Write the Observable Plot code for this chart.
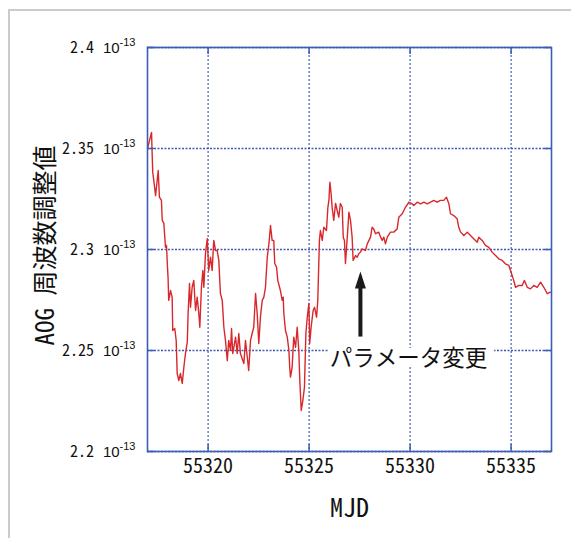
<!DOCTYPE html>
<html><head><meta charset="utf-8">
<script src="https://cdn.jsdelivr.net/npm/d3@7"></script>
<script src="https://cdn.jsdelivr.net/npm/@observablehq/plot@0.6"></script>
<style>
html,body{margin:0;padding:0;background:#fff;overflow:hidden;}
#wrap{position:relative;width:571px;height:538px;overflow:hidden;}
#border{position:absolute;left:8px;top:9px;width:700px;height:700px;border-left:2px solid #cbcbcb;border-top:2px solid #cbcbcb;}
#chart{position:absolute;left:0;top:0;}
</style></head><body>
<div id="wrap"><div id="border"></div><div id="chart"></div></div>
<script>
// MJD of each sample
const mjd = [
55317.00,55317.20,55317.23,55317.26,55317.40,55317.53,55317.59,55317.69,55317.73,55317.81,
55317.89,55317.94,55317.98,55318.02,55318.05,55318.14,55318.22,55318.25,55318.35,55318.42,
55318.47,55318.55,55318.63,55318.72,55318.80,55318.88,55318.97,55319.01,55319.08,55319.13,
55319.21,55319.29,55319.38,55319.46,55319.54,55319.59,55319.67,55319.74,55319.79,55319.87,
55319.96,55320.03,55320.12,55320.20,55320.28,55320.37,55320.45,55320.53,55320.61,55320.70,
55320.78,55320.86,55320.95,55321.02,55321.11,55321.16,55321.22,55321.36,55321.44,55321.52,
55321.60,55321.77,55321.85,55322.01,55322.10,55322.18,55322.26,55322.35,55322.43,55322.51,
55322.59,55322.68,55322.76,55322.84,55322.93,55323.01,55323.09,55323.17,55323.25,55323.30,
55323.39,55323.45,55323.58,55323.67,55323.72,55323.75,55323.83,55323.92,55324.00,55324.04,
55324.08,55324.16,55324.24,55324.33,55324.41,55324.49,55324.54,55324.61,55324.69,55324.77,
55324.84,55324.91,55324.99,55325.03,55325.10,55325.20,55325.27,55325.37,55325.43,55325.51,
55325.56,55325.65,55325.73,55325.86,55325.93,55325.98,55326.03,55326.09,55326.14,55326.22,
55326.31,55326.39,55326.47,55326.55,55326.64,55326.69,55326.75,55326.80,55326.89,55326.97,
55327.05,55327.13,55327.18,55327.30,55327.38,55327.46,55327.54,55327.63,55327.79,55327.88,
55328.04,55328.12,55328.20,55328.29,55328.45,55328.54,55328.62,55328.70,55328.78,55328.87,
55329.03,55329.19,55329.36,55329.44,55329.61,55329.77,55329.94,55330.10,55330.18,55330.35,
55330.52,55330.68,55330.85,55331.01,55331.17,55331.34,55331.50,55331.67,55331.80,55331.92,
55332.00,55332.16,55332.33,55332.41,55332.50,55332.66,55332.83,55332.99,55333.15,55333.32,
55333.40,55333.57,55333.73,55333.90,55334.06,55334.23,55334.39,55334.56,55334.72,55334.89,
55334.97,55335.13,55335.22,55335.38,55335.55,55335.66,55335.80,55335.96,55336.12,55336.29,
55336.46,55336.62,55336.79,55336.95
];
// AOG frequency adjustment value, in units of 1e-13
const aog = [
2.3499,2.358,2.3475,2.3383,2.3267,2.3391,2.3259,2.3243,2.3144,2.3129,
2.3011,2.302,2.2931,2.2856,2.2748,2.2797,2.2764,2.2599,2.2609,2.255,
2.2386,2.2351,2.2386,2.2337,2.2417,2.2485,2.2541,2.2683,2.2832,2.2714,
2.2813,2.2847,2.2698,2.2764,2.2683,2.2615,2.2813,2.2896,2.2813,2.298,
2.3054,2.2896,2.2962,2.2896,2.3045,2.2995,2.2995,2.2946,2.2782,2.2748,
2.2615,2.255,2.245,2.255,2.25,2.2609,2.2485,2.2566,2.2485,2.2584,
2.2485,2.2436,2.255,2.2401,2.255,2.2584,2.2615,2.2782,2.2683,2.2535,
2.2665,2.2748,2.2764,2.2813,2.2962,2.3028,2.3119,2.3045,2.3045,2.2931,
2.2912,2.2847,2.2797,2.2748,2.2764,2.2683,2.2599,2.2566,2.25,2.2417,
2.2368,2.2417,2.2566,2.2516,2.2615,2.25,2.2351,2.2203,2.2252,2.2318,
2.2584,2.2665,2.2733,2.2535,2.2615,2.2698,2.2714,2.2665,2.2748,2.3045,
2.3094,2.3045,2.311,2.3094,2.3209,2.3243,2.3333,2.3276,2.3209,2.3144,
2.3228,2.3193,2.316,2.3228,2.3209,2.3061,2.3045,2.2931,2.3061,2.3185,
2.3144,2.3061,2.2946,2.297,2.2962,2.2979,2.2987,2.3003,2.2995,2.3028,
2.3061,2.311,2.3102,2.3078,2.3086,2.3061,2.3045,2.3061,2.3028,2.3061,
2.3086,2.3086,2.3102,2.316,2.3177,2.3209,2.3234,2.3226,2.3218,2.3234,
2.3226,2.3234,2.3226,2.3234,2.3243,2.3234,2.3243,2.3243,2.3259,2.3226,
2.3177,2.3168,2.3152,2.311,2.3086,2.3069,2.3086,2.3069,2.3053,2.3036,
2.3061,2.3045,2.302,2.3011,2.2987,2.297,2.2954,2.2946,2.2929,2.2921,
2.2896,2.2847,2.2813,2.2822,2.2822,2.2847,2.2813,2.2805,2.2822,2.2813,
2.2838,2.2813,2.2781,2.2789
];
const xTicks = [55320, 55325, 55330, 55335];
const yTicks = [2.2, 2.25, 2.3, 2.35, 2.4];
const yExponent = "-13";
const xDomain = [55317, 55337];
const yDomain = [2.2, 2.4];
const xLabel = "MJD";
const yLabel = "AOG 周波数調整値";
// annotation
const noteText = ["パラメータ変更"];
const noteMjd = [55329.92];
const noteVal = [2.246];
const arrowMjd = [55327.54];
const arrowFromVal = [2.2569];
const arrowToVal = [2.2812];

const n = Math.min(mjd.length, aog.length);
const series = d3.range(n).map(i => ({x: mjd[i], y: aog[i]}));
const arrows = arrowMjd.map((x, i) => ({x, y1: arrowFromVal[i], y2: arrowToVal[i]}));
const notes = noteText.map((t, i) => ({t, x: noteMjd[i], y: noteVal[i]}));

const monoFont = "'Noto Sans Mono CJK JP','Noto Sans CJK JP',sans-serif";
const blue = "#3a5db5";
const gridBlue = "#1f3f9f";

const upTriangle = {
  draw(ctx) { ctx.moveTo(0, -16); ctx.lineTo(5.5, 1); ctx.lineTo(-5.5, 1); ctx.closePath(); }
};

const W = 571, H = 538, mL = 147, mR = 20, mT = 47, mB = 87;
const innerW = W - mL - mR, innerH = H - mT - mB;

const plot = Plot.plot({
  width: W, height: H,
  marginLeft: mL, marginRight: mR, marginTop: mT, marginBottom: mB,
  style: {background: "transparent", fontFamily: monoFont},
  x: {domain: xDomain},
  y: {domain: yDomain},
  marks: [
    Plot.gridX(xTicks, {stroke: gridBlue, strokeOpacity: 1, strokeDasharray: "2,2", strokeWidth: 1}),
    Plot.gridY(yTicks, {stroke: gridBlue, strokeOpacity: 0.85, strokeDasharray: "2,1.5", strokeWidth: 1.3}),
    Plot.line(series, {x: "x", y: "y", stroke: "#d8282c", strokeWidth: 1.4}),
    Plot.frame({stroke: blue, strokeWidth: 1.6}),
    // inward ticks on all four sides
    Plot.ruleX(xTicks, {x: d => d, stroke: blue, strokeWidth: 1.5, insetTop: innerH - 7}),
    Plot.ruleX(xTicks, {x: d => d, stroke: blue, strokeWidth: 1.5, insetBottom: innerH - 7}),
    Plot.ruleY(yTicks, {y: d => d, stroke: blue, strokeWidth: 1.5, insetRight: innerW - 7}),
    Plot.ruleY(yTicks, {y: d => d, stroke: blue, strokeWidth: 1.5, insetLeft: innerW - 7}),
    Plot.axisX({ticks: xTicks, tickSize: 0, tickPadding: 7, fontSize: 20, fontFamily: monoFont, fill: "#111", label: null, tickFormat: d => String(d)}),
    Plot.axisY({ticks: yTicks, tickSize: 0, tickPadding: 12, fontSize: 16, fontFamily: monoFont, fill: "#111", label: null, tickFormat: d => String(d)}),
    Plot.text([xLabel], {frameAnchor: "bottom", lineAnchor: "middle", textAnchor: "middle", dy: 57, fontSize: 26, fontFamily: monoFont, fill: "#111"}),
    Plot.text([yLabel], {frameAnchor: "left", lineAnchor: "middle", textAnchor: "middle", dx: -102, dy: -4, rotate: -90, fontSize: 25, fontFamily: monoFont, fill: "#111"}),
    // annotation
    Plot.text(notes, {x: "x", y: "y", text: "t", fontSize: 22.5, fontFamily: monoFont, fill: "#111", stroke: "white", strokeWidth: 16, strokeLinejoin: "miter"}),
    Plot.link(arrows, {x1: "x", x2: "x", y1: "y1", y2: "y2", stroke: "#1a1a1a", strokeWidth: 4}),
    Plot.dot(arrows, {x: "x", y: "y2", symbol: upTriangle, fill: "#1a1a1a", stroke: "none", r: 5})
  ]
});

// y tick labels: mantissa followed by 10 with a superscript exponent
d3.select(plot).selectAll('g[aria-label="y-axis tick label"] text').each(function() {
  const t = d3.select(this);
  const m = t.text();
  t.text(null);
  t.append("tspan").text(m).attr("font-family", monoFont).attr("font-size", 16);
  t.append("tspan").text("10").attr("dx", 9).attr("font-family", "'Liberation Sans Narrow','Liberation Sans',sans-serif").attr("font-size", 15);
  t.append("tspan").text(yExponent).attr("dy", -7).attr("font-family", "'Liberation Sans Narrow','Liberation Sans',sans-serif").attr("font-size", 11);
});

document.getElementById("chart").appendChild(plot);
</script>
</body></html>
